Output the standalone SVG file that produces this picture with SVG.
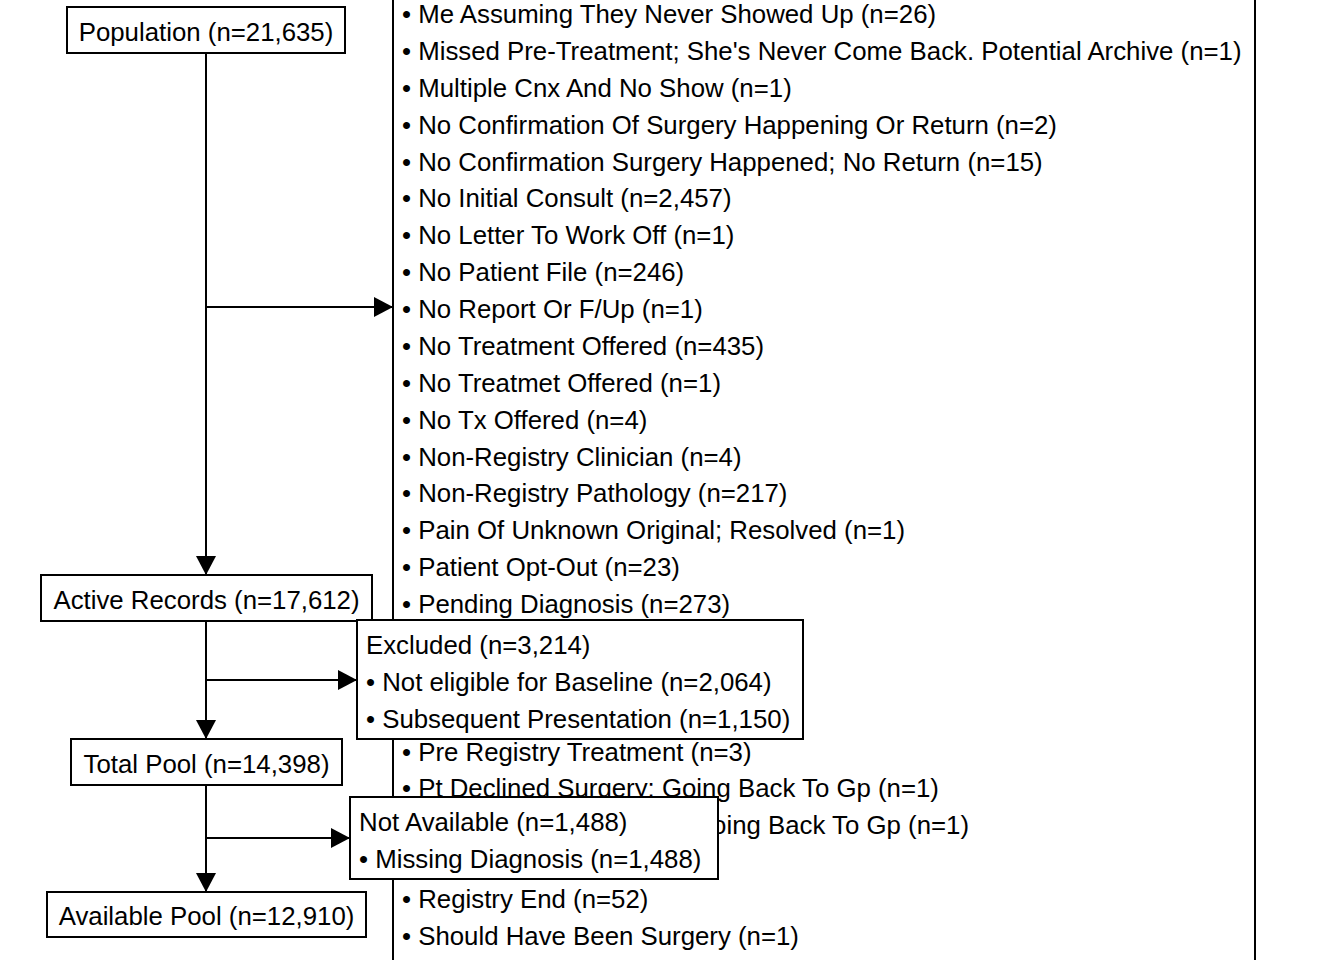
<svg xmlns="http://www.w3.org/2000/svg" width="1344" height="960" viewBox="0 0 1344 960">
<style>
text{font-family:"Liberation Sans",Arial,sans-serif;font-size:25.8px;fill:#000}
.box{fill:#fff;stroke:#000;stroke-width:2}
.mid{text-anchor:middle}
.edge{stroke:#000;stroke-width:2;fill:none}
</style>
<defs>
<marker id="arr" markerUnits="userSpaceOnUse" markerWidth="20" markerHeight="22" refX="19" refY="10" orient="auto" viewBox="0 0 20 20">
<path d="M0,0 L19,10 L0,20 Z" fill="#000"/>
</marker>
</defs>
<rect width="1344" height="960" fill="#fff"/>
<g id="reasons">
<rect class="box" x="393" y="-50" width="862" height="1060"/>
<text x="402" y="23">• Me Assuming They Never Showed Up (n=26)</text>
<text x="402" y="59.9">• Missed Pre-Treatment; She's Never Come Back. Potential Archive (n=1)</text>
<text x="402" y="96.8">• Multiple Cnx And No Show (n=1)</text>
<text x="402" y="133.6">• No Confirmation Of Surgery Happening Or Return (n=2)</text>
<text x="402" y="170.5">• No Confirmation Surgery Happened; No Return (n=15)</text>
<text x="402" y="207.4">• No Initial Consult (n=2,457)</text>
<text x="402" y="244.3">• No Letter To Work Off (n=1)</text>
<text x="402" y="281.2">• No Patient File (n=246)</text>
<text x="402" y="318">• No Report Or F/Up (n=1)</text>
<text x="402" y="354.9">• No Treatment Offered (n=435)</text>
<text x="402" y="391.8">• No Treatmet Offered (n=1)</text>
<text x="402" y="428.7">• No Tx Offered (n=4)</text>
<text x="402" y="465.6">• Non-Registry Clinician (n=4)</text>
<text x="402" y="502.4">• Non-Registry Pathology (n=217)</text>
<text x="402" y="539.3">• Pain Of Unknown Original; Resolved (n=1)</text>
<text x="402" y="576.2">• Patient Opt-Out (n=23)</text>
<text x="402" y="613.1">• Pending Diagnosis (n=273)</text>
<text x="402" y="760.6">• Pre Registry Treatment (n=3)</text>
<text x="402" y="797.4">• Pt Declined Surgery: Going Back To Gp (n=1)</text>
<text x="969" y="834.3" text-anchor="end">Going Back To Gp (n=1)</text>
<text x="402" y="908.1">• Registry End (n=52)</text>
<text x="402" y="945">• Should Have Been Surgery (n=1)</text>
</g>
<g id="connectors">
<path class="edge" d="M206,53 V575" marker-end="url(#arr)"/>
<path class="edge" d="M206,307 H393" marker-end="url(#arr)"/>
<path class="edge" d="M206,621 V739" marker-end="url(#arr)"/>
<path class="edge" d="M206,680 H357" marker-end="url(#arr)"/>
<path class="edge" d="M206,785 V892" marker-end="url(#arr)"/>
<path class="edge" d="M206,838 H350" marker-end="url(#arr)"/>
</g>
<g id="population">
<rect class="box" x="67" y="7" width="278" height="46"/>
<text class="mid" x="206" y="41">Population (n=21,635)</text>
</g>
<g id="active">
<rect class="box" x="41" y="575" width="331" height="46"/>
<text class="mid" x="206.5" y="609">Active Records (n=17,612)</text>
</g>
<g id="excluded">
<rect class="box" x="357" y="620" width="446" height="119"/>
<text x="366" y="654">Excluded (n=3,214)</text>
<text x="366" y="691">• Not eligible for Baseline (n=2,064)</text>
<text x="366" y="728">• Subsequent Presentation (n=1,150)</text>
</g>
<g id="total">
<rect class="box" x="71" y="739" width="271" height="46"/>
<text class="mid" x="206.5" y="773">Total Pool (n=14,398)</text>
</g>
<g id="notavailable">
<rect class="box" x="350" y="797" width="368" height="82"/>
<text x="359" y="831">Not Available (n=1,488)</text>
<text x="359" y="868">• Missing Diagnosis (n=1,488)</text>
</g>
<g id="available">
<rect class="box" x="47" y="892" width="319" height="45"/>
<text class="mid" x="206.5" y="925">Available Pool (n=12,910)</text>
</g>
</svg>
